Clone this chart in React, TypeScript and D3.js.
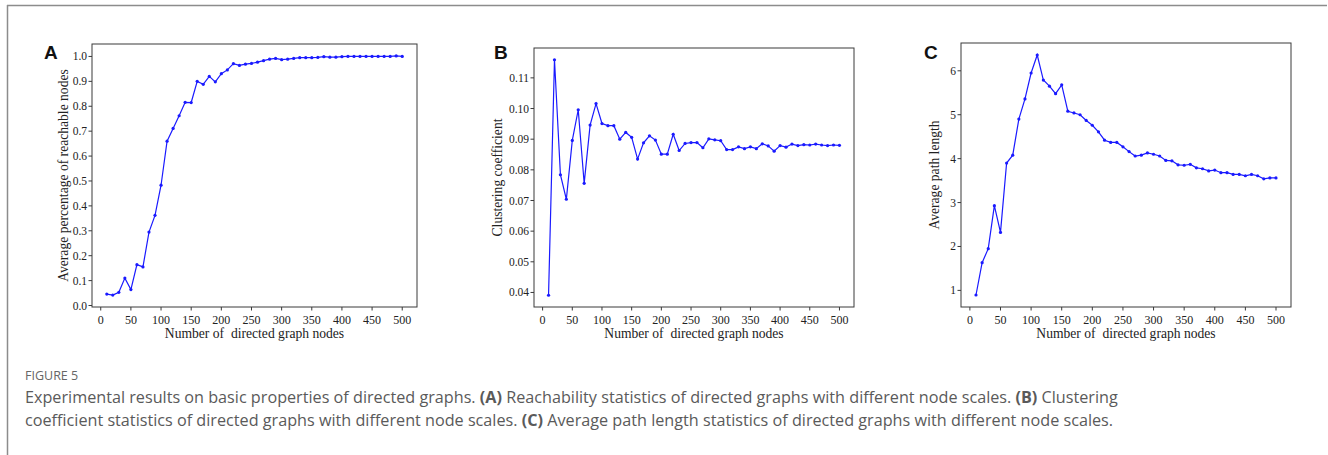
import React from "react";
import * as d3 from "d3";

const nodes = d3.range(10, 501, 10);

const reachability = [
  0.046, 0.042, 0.053, 0.11, 0.064, 0.164, 0.155, 0.295, 0.362, 0.483,
  0.66, 0.711, 0.762, 0.816, 0.815, 0.9, 0.888, 0.92, 0.898, 0.931,
  0.946, 0.971, 0.964, 0.969, 0.972, 0.977, 0.983, 0.989, 0.992, 0.987,
  0.989, 0.992, 0.995, 0.995, 0.995, 0.996, 0.999, 0.997, 0.997, 0.999,
  1.0, 1.0, 1.0, 1.0, 1.0, 1.0, 1.0, 1.0, 1.002, 1.0,
];

const clustering = [
  0.0391, 0.1159, 0.0784, 0.0704, 0.0896, 0.0996, 0.0756, 0.0946, 0.1016, 0.0951,
  0.0944, 0.0944, 0.09, 0.0922, 0.0906, 0.0835, 0.0888, 0.0911, 0.0897, 0.0851,
  0.0851, 0.0916, 0.0863, 0.0886, 0.0889, 0.0889, 0.0872, 0.0901, 0.0898, 0.0895,
  0.0866, 0.0866, 0.0875, 0.0869, 0.0875, 0.0869, 0.0885, 0.0878, 0.0861, 0.0879,
  0.0874, 0.0884, 0.0879, 0.0882, 0.0881, 0.0884, 0.0881, 0.0879, 0.0881, 0.088,
];

const pathLength = [
  0.895, 1.63, 1.95, 2.93, 2.32, 3.9, 4.08, 4.9, 5.36, 5.95,
  6.36, 5.79, 5.65, 5.48, 5.68, 5.08, 5.04, 5.0, 4.87, 4.76,
  4.61, 4.42, 4.37, 4.37, 4.27, 4.16, 4.06, 4.08, 4.13, 4.1,
  4.06, 3.96, 3.95, 3.86, 3.85, 3.87, 3.79, 3.77, 3.72, 3.74,
  3.68, 3.68, 3.64, 3.64, 3.61, 3.64, 3.61, 3.54, 3.56, 3.56,
];

const xTicks = [0, 50, 100, 150, 200, 250, 300, 350, 400, 450, 500];
const yTicksA = [0, 0.1, 0.2, 0.3, 0.4, 0.5, 0.6, 0.7, 0.8, 0.9, 1.0];
const yTicksB = [0.04, 0.05, 0.06, 0.07, 0.08, 0.09, 0.1, 0.11];
const yTicksC = [1, 2, 3, 4, 5, 6];

const panelLetters = ["A", "B", "C"];
const yLabels = [
  "Average percentage of reachable nodes",
  "Clustering coefficient",
  "Average path length",
];
const xLabel = "Number of  directed graph nodes";

const SERIF = "'Liberation Serif', 'Times New Roman', serif";
const SANS = "'Open Sans', 'Noto Sans', sans-serif";

function margins(vals: number[]): [number, number] {
  const mn = d3.min(vals) as number;
  const mx = d3.max(vals) as number;
  const m = (mx - mn) * 0.05;
  return [mn - m, mx + m];
}

type PanelProps = {
  letter: string;
  values: number[];
  yTicks: number[];
  yFmt: (v: number) => string;
  yLabel: string;
  box: { l: number; r: number; t: number; b: number };
  letterX: number;
  yLabelX: number;
};

function Panel({ letter, values, yTicks, yFmt, yLabel, box, letterX, yLabelX }: PanelProps) {
  const xDom = margins(nodes);
  const x = d3.scaleLinear().domain(xDom).range([box.l, box.r]);
  const y = d3.scaleLinear().domain(margins(values)).range([box.b, box.t]);
  const line = d3
    .line<number>()
    .x((_, i) => x(nodes[i]))
    .y((d) => y(d));
  const axisColor = "#3a3a3a";
  return (
    <g>
      <text x={letterX} y={59} fontFamily="'Liberation Sans', Arial, sans-serif" fontWeight="bold" fontSize={19} fill="#111">
        {letter}
      </text>
      <rect x={box.l} y={box.t} width={box.r - box.l} height={box.b - box.t} fill="none" stroke={axisColor} strokeWidth={1} />
      {yTicks.map((t) => (
        <g key={"y" + t}>
          <line x1={box.l - 3.5} x2={box.l} y1={y(t)} y2={y(t)} stroke={axisColor} strokeWidth={1} />
          <text x={box.l - 5} y={y(t)} dy="0.35em" textAnchor="end" fontFamily={SERIF} fontSize={11.5} fill="#222">
            {yFmt(t)}
          </text>
        </g>
      ))}
      {xTicks.map((t) => (
        <g key={"x" + t}>
          <line x1={x(t)} x2={x(t)} y1={box.b} y2={box.b + 3.5} stroke={axisColor} strokeWidth={1} />
          <text x={x(t)} y={box.b + 16.5} textAnchor="middle" fontFamily={SERIF} fontSize={12} fill="#222">
            {t}
          </text>
        </g>
      ))}
      <text
        x={(box.l + box.r) / 2}
        y={box.b + 31}
        textAnchor="middle"
        fontFamily={SERIF}
        fontSize={13.6}
        fill="#222"
        style={{ whiteSpace: "pre" }}
      >
        {xLabel}
      </text>
      <text
        transform={`translate(${yLabelX},${(box.t + box.b) / 2}) rotate(-90)`}
        textAnchor="middle"
        fontFamily={SERIF}
        fontSize={13.6}
        fill="#222"
      >
        {yLabel}
      </text>
      <path d={line(values) || ""} fill="none" stroke="#1a1aff" strokeWidth={1.2} />
      {values.map((v, i) => (
        <circle key={i} cx={x(nodes[i])} cy={y(v)} r={1.6} fill="#1a1aff" />
      ))}
    </g>
  );
}

export default function App() {
  const fmt1 = d3.format(".1f");
  const fmt2 = d3.format(".2f");
  const fmt0 = d3.format("d");
  return (
    <svg width={1328} height={455} style={{ position: "absolute", left: 0, top: 0, background: "#fff" }}>
      <rect x={0} y={0} width={1328} height={455} fill="#fff" />
      <line x1={7} x2={1327} y1={5.5} y2={5.5} stroke="#8c8c8c" strokeWidth={1.5} />
      <line x1={7.5} x2={7.5} y1={5} y2={455} stroke="#8c8c8c" strokeWidth={1.5} />
      <Panel
        letter={panelLetters[0]}
        values={reachability}
        yTicks={yTicksA}
        yFmt={fmt1}
        yLabel={yLabels[0]}
        box={{ l: 92, r: 417, t: 44, b: 307 }}
        letterX={44}
        yLabelX={68}
      />
      <Panel
        letter={panelLetters[1]}
        values={clustering}
        yTicks={yTicksB}
        yFmt={fmt2}
        yLabel={yLabels[1]}
        box={{ l: 534, r: 854, t: 48, b: 307 }}
        letterX={494}
        yLabelX={502}
      />
      <Panel
        letter={panelLetters[2]}
        values={pathLength}
        yTicks={yTicksC}
        yFmt={fmt0}
        yLabel={yLabels[2]}
        box={{ l: 961, r: 1291, t: 43, b: 307 }}
        letterX={924}
        yLabelX={939}
      />
      <text x={25} y={380} fontFamily={SANS} fontSize={12.5} fill="#666">
        FIGURE 5
      </text>
      <text x={25} y={403} fontFamily={SANS} fontSize={16.2} fill="#5a5a5a">
        Experimental results on basic properties of directed graphs. <tspan fontWeight="bold">(A)</tspan> Reachability statistics of directed graphs with different node scales. <tspan fontWeight="bold">(B)</tspan> Clustering
      </text>
      <text x={25} y={426} fontFamily={SANS} fontSize={16.2} fill="#5a5a5a">
        coefficient statistics of directed graphs with different node scales. <tspan fontWeight="bold">(C)</tspan> Average path length statistics of directed graphs with different node scales.
      </text>
    </svg>
  );
}
